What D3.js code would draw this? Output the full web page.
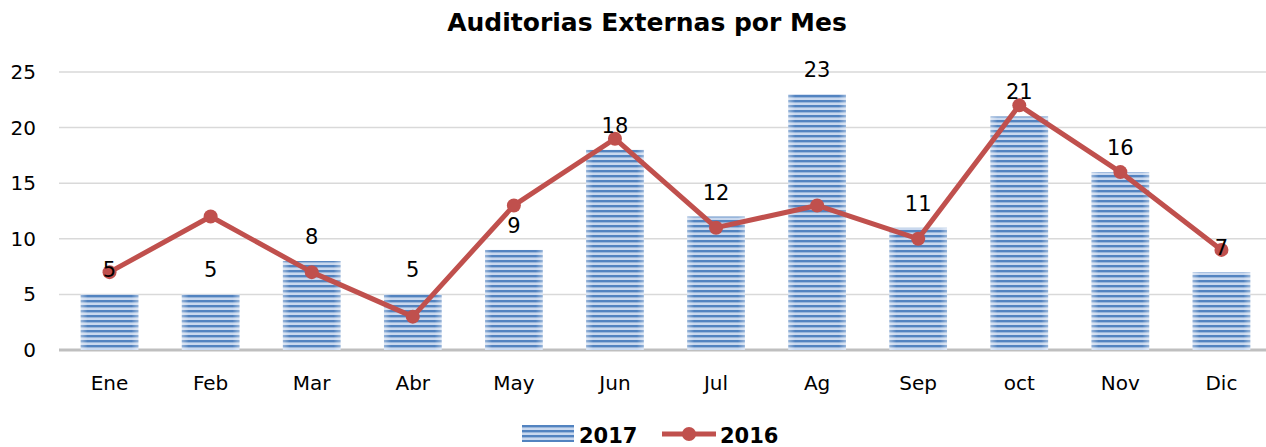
<!DOCTYPE html>
<html>
<head>
<meta charset="utf-8">
<script src="https://cdn.jsdelivr.net/npm/d3@7"></script>
<style>
  body { margin: 0; background: #fff; }
  text { font-family: "DejaVu Sans", Verdana, sans-serif; }
</style>
</head>
<body>
<div id="container"></div>
<script>
let months = ["Ene", "Feb", "Mar", "Abr", "May", "Jun", "Jul", "Ag", "Sep", "oct", "Nov", "Dic"];
let values2017 = [5, 5, 8, 5, 9, 18, 12, 23, 11, 21, 16, 7];
let values2016 = [7, 12, 7, 3, 13, 19, 11, 13, 10, 22, 16, 9];
let yTicks = [0, 5, 10, 15, 20, 25];

let w = 1266;
let h = 447;
let plotLeft = 59, plotRight = 1272, plotTop = 72, plotBottom = 350;

let svg = d3.select("#container")
  .append("svg")
  .attr("width", w)
  .attr("height", h);

let defs = svg.append("defs");

// horizontal stripes for the bars
let pat = defs.append("pattern")
  .attr("id", "stripes")
  .attr("patternUnits", "userSpaceOnUse")
  .attr("width", 10)
  .attr("height", 5);
pat.append("rect").attr("width", 10).attr("height", 5).attr("fill", "#c9d8ee");
pat.append("rect").attr("y", 0).attr("width", 10).attr("height", 2.4).attr("fill", "#5283c0");

// lighter edges on each bar
let grad = defs.append("linearGradient")
  .attr("id", "edge")
  .attr("x1", "0%").attr("x2", "100%");
grad.append("stop").attr("offset", "0%").attr("stop-color", "#fff").attr("stop-opacity", 0.4);
grad.append("stop").attr("offset", "12%").attr("stop-color", "#fff").attr("stop-opacity", 0);
grad.append("stop").attr("offset", "88%").attr("stop-color", "#fff").attr("stop-opacity", 0);
grad.append("stop").attr("offset", "100%").attr("stop-color", "#fff").attr("stop-opacity", 0.4);

let x = d3.scaleBand()
  .domain(months)
  .range([plotLeft, plotRight])
  .paddingInner(0.43)
  .paddingOuter(0.215);

let y = d3.scaleLinear()
  .domain([0, 25])
  .range([plotBottom, plotTop]);

svg.append("text")
  .attr("x", 647)
  .attr("y", 31)
  .attr("text-anchor", "middle")
  .style("font-size", "25px")
  .style("font-weight", "bold")
  .text("Auditorias Externas por Mes");

// gridlines
svg.append("g")
  .selectAll("line")
  .data(yTicks)
  .enter()
  .append("line")
  .attr("x1", plotLeft)
  .attr("x2", w)
  .attr("y1", d => y(d))
  .attr("y2", d => y(d))
  .attr("stroke", d => d === 0 ? "#bfbfbf" : "#d9d9d9")
  .attr("stroke-width", d => d === 0 ? 3 : 1.5);

// y axis labels
svg.append("g")
  .selectAll("text")
  .data(yTicks)
  .enter()
  .append("text")
  .attr("x", 36)
  .attr("y", d => y(d) + 7)
  .attr("text-anchor", "end")
  .style("font-size", "20px")
  .text(d => d);

// x axis labels
svg.append("g")
  .selectAll("text")
  .data(months)
  .enter()
  .append("text")
  .attr("x", d => x(d) + x.bandwidth() / 2)
  .attr("y", 390)
  .attr("text-anchor", "middle")
  .style("font-size", "20px")
  .text(d => d);

// bars
let bars = svg.append("g");
bars.selectAll("rect.bar")
  .data(values2017)
  .enter()
  .append("rect")
  .attr("class", "bar")
  .attr("x", (d, i) => x(months[i]))
  .attr("y", d => y(d))
  .attr("width", x.bandwidth())
  .attr("height", d => y(0) - y(d))
  .attr("fill", "url(#stripes)");
bars.selectAll("rect.edge")
  .data(values2017)
  .enter()
  .append("rect")
  .attr("class", "edge")
  .attr("x", (d, i) => x(months[i]))
  .attr("y", d => y(d))
  .attr("width", x.bandwidth())
  .attr("height", d => y(0) - y(d))
  .attr("fill", "url(#edge)");

// line 2016
let line = d3.line()
  .x((d, i) => x(months[i]) + x.bandwidth() / 2)
  .y(d => y(d));

svg.append("path")
  .datum(values2016)
  .attr("d", line)
  .attr("fill", "none")
  .attr("stroke", "#c0504d")
  .attr("stroke-width", 5)
  .attr("stroke-linejoin", "round");

svg.append("g")
  .selectAll("circle")
  .data(values2016)
  .enter()
  .append("circle")
  .attr("cx", (d, i) => x(months[i]) + x.bandwidth() / 2)
  .attr("cy", d => y(d))
  .attr("r", 7)
  .attr("fill", "#c0504d");

// bar value labels
svg.append("g")
  .selectAll("text")
  .data(values2017)
  .enter()
  .append("text")
  .attr("x", (d, i) => x(months[i]) + x.bandwidth() / 2)
  .attr("y", d => y(d) - 17)
  .attr("text-anchor", "middle")
  .style("font-size", "21px")
  .text(d => d);

// legend
let legend = svg.append("g");
legend.append("rect")
  .attr("x", 522).attr("y", 425).attr("width", 52).attr("height", 17)
  .attr("fill", "url(#stripes)");
legend.append("text")
  .attr("x", 579).attr("y", 443)
  .style("font-size", "21px").style("font-weight", "bold")
  .text("2017");
legend.append("line")
  .attr("x1", 662).attr("x2", 716).attr("y1", 434).attr("y2", 434)
  .attr("stroke", "#c0504d").attr("stroke-width", 5);
legend.append("circle")
  .attr("cx", 689).attr("cy", 434).attr("r", 7)
  .attr("fill", "#c0504d");
legend.append("text")
  .attr("x", 720).attr("y", 443)
  .style("font-size", "21px").style("font-weight", "bold")
  .text("2016");
</script>
</body>
</html>
